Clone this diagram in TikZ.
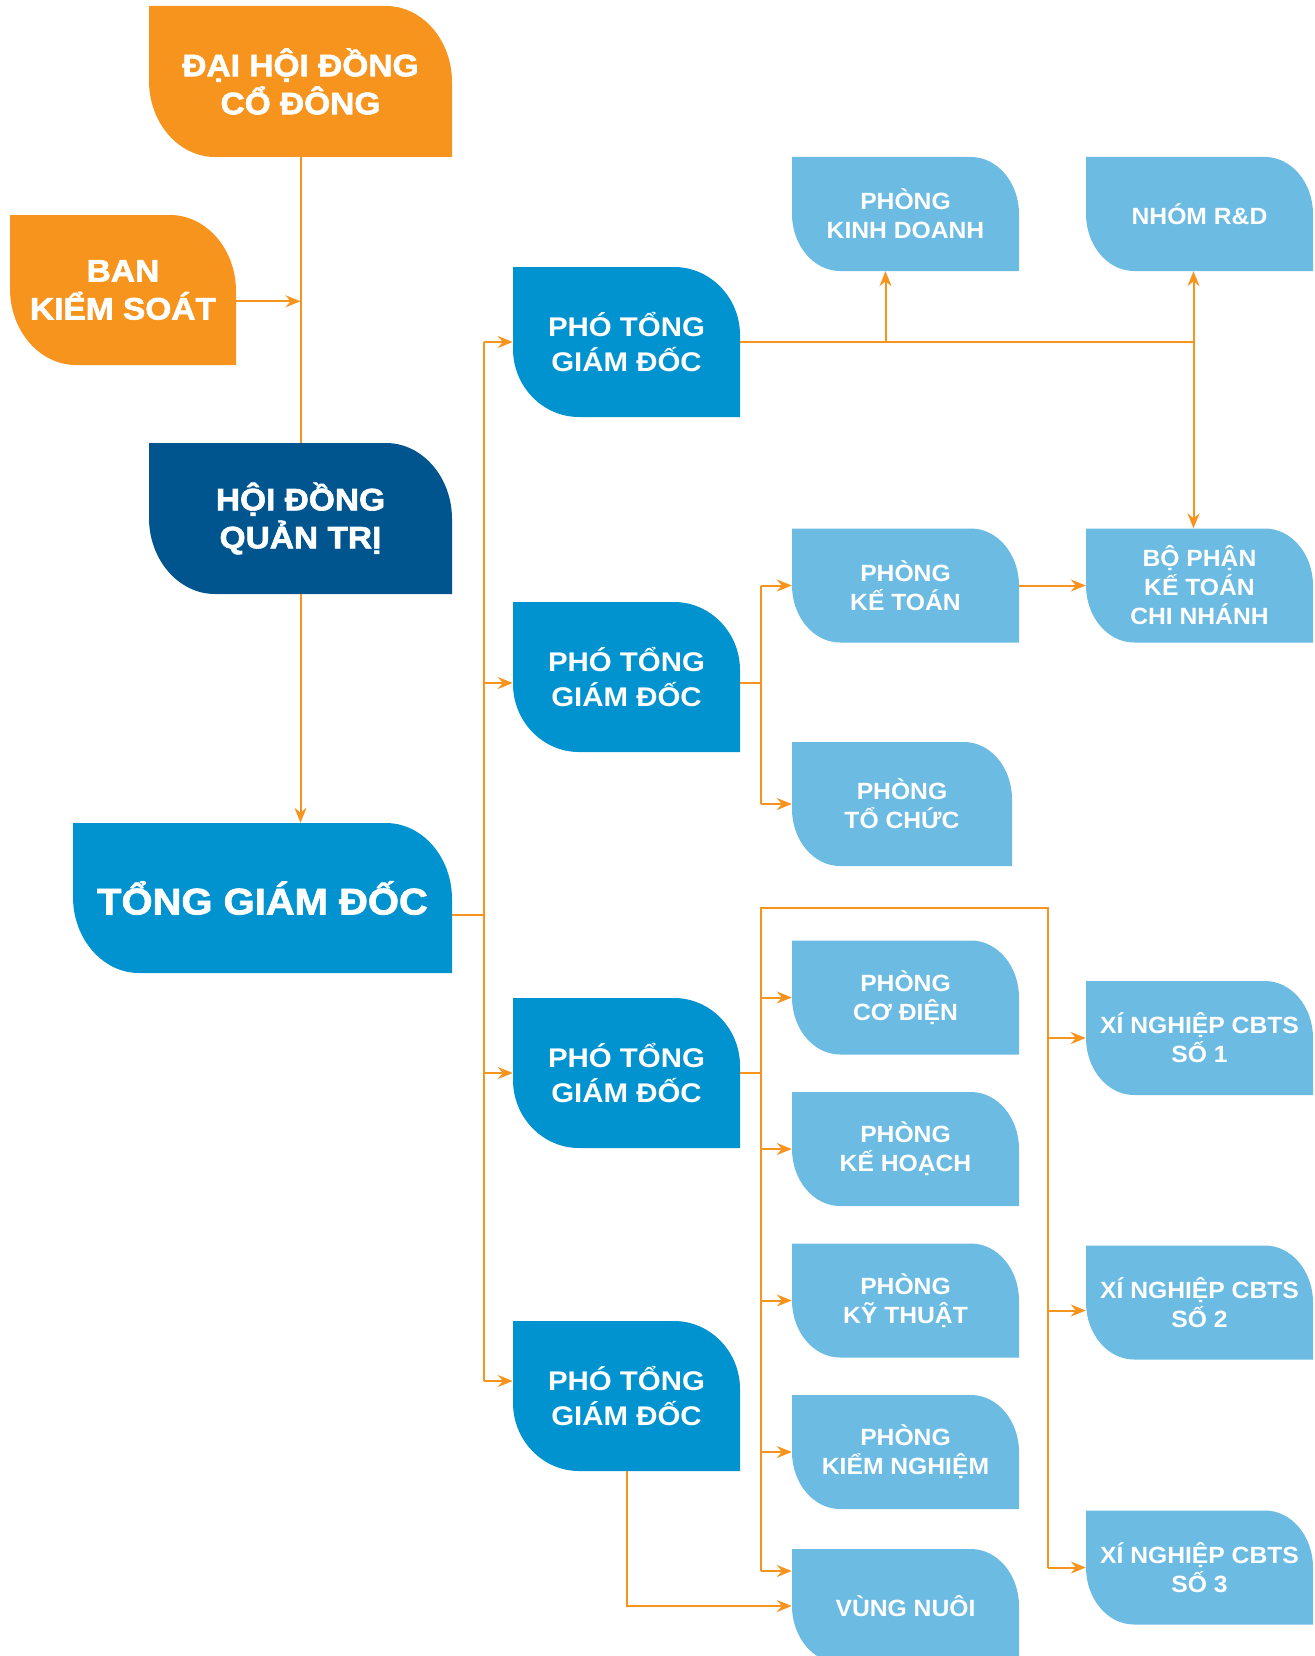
\documentclass[tikz,border=0pt]{standalone}
\usepackage{fontspec}
\setmainfont{Liberation Sans}
\newfontfamily\heavyfont[FakeStretch=1.08,FakeBold=2]{Liberation Sans}
\newfontfamily\boldfont[FakeStretch=1.05]{Liberation Sans}
\newfontfamily\viceboldfont[FakeStretch=1.09]{Liberation Sans}
\usetikzlibrary{calc,arrows.meta}

\definecolor{orangeC}{HTML}{F7941D}
\definecolor{navyC}{HTML}{01558F}
\definecolor{blueC}{HTML}{0093CF}
\definecolor{skyC}{HTML}{6CBBE3}
\definecolor{lineC}{HTML}{F7941D}

\tikzset{
  leaf/.style n args={3}{rectangle, inner sep=0pt, align=center, text=white,
    path picture={\fill[#1] (path picture bounding box.north west)
      -- ([xshift=-#2pt]path picture bounding box.north east)
      .. controls ([xshift={-0.45*#2pt}]path picture bounding box.north east) and ([yshift={-0.45*#3pt}]path picture bounding box.north east)
      .. ([yshift=-#3pt]path picture bounding box.north east)
      -- (path picture bounding box.south east)
      -- ([xshift=#2pt]path picture bounding box.south west)
      .. controls ([xshift={0.45*#2pt}]path picture bounding box.south west) and ([yshift={0.45*#3pt}]path picture bounding box.south west)
      .. ([yshift=#3pt]path picture bounding box.south west) -- cycle;}},
  bigbox/.style={leaf={#1}{66}{76}, minimum width=303pt, minimum height=151pt,
    font=\heavyfont\bfseries\fontsize{31}{38}\selectfont},
  vicebox/.style={leaf={blueC}{66}{68}, minimum width=227pt, minimum height=150pt,
    font=\viceboldfont\bfseries\fontsize{27}{35}\selectfont},
  unitbox/.style={leaf={skyC}{48}{57}, minimum width=227pt, minimum height=114pt,
    font=\boldfont\bfseries\fontsize{23.5}{29}\selectfont},
  link/.style={draw=lineC, line width=2pt},
  arr/.style={link, -{Stealth[length=15pt,width=12pt,inset=5pt]}}
}

\begin{document}
\begin{tikzpicture}[x=1pt,y=-1pt]
\useasboundingbox (0,0) rectangle (1314,1656);

% left column
\node[bigbox=orangeC] (dhdcd) at (300.5,81.5) {ĐẠI HỘI ĐỒNG\\CỔ ĐÔNG};
\node[bigbox=orangeC, minimum width=226pt, minimum height=150pt] (bks) at (123,290) {BAN\\KIỂM SOÁT};
\node[bigbox=navyC] (hdqt) at (300.5,518.5) {HỘI ĐỒNG\\QUẢN TRỊ};
\node[bigbox=blueC, minimum width=379pt, minimum height=150pt,
  font=\heavyfont\bfseries\fontsize{37}{44}\selectfont] (tgd) at (262.5,898) {TỔNG GIÁM ĐỐC};

% deputies
\node[vicebox] (ptgd1) at (626.5,342) {PHÓ TỔNG\\GIÁM ĐỐC};
\node[vicebox] (ptgd2) at (626.5,677) {PHÓ TỔNG\\GIÁM ĐỐC};
\node[vicebox] (ptgd3) at (626.5,1073) {PHÓ TỔNG\\GIÁM ĐỐC};
\node[vicebox] (ptgd4) at (626.5,1396) {PHÓ TỔNG\\GIÁM ĐỐC};

% departments
\node[unitbox] (kinhdoanh) at (905.5,214) {PHÒNG\\KINH DOANH};
\node[unitbox] (rnd) at (1199.5,214) {NHÓM R\&D};
\node[unitbox] (ketoan) at (905.5,585.5) {PHÒNG\\KẾ TOÁN};
\node[unitbox] (bpketoan) at (1199.5,585.5) {BỘ PHẬN\\KẾ TOÁN\\CHI NHÁNH};
\node[unitbox, minimum width=220pt, minimum height=124pt] (tochuc) at (902,804) {PHÒNG\\TỔ CHỨC};
\foreach \nm/\yy/\txt in {codien/997.5/{PHÒNG\\CƠ ĐIỆN}, kehoach/1149/{PHÒNG\\KẾ HOẠCH},
    kythuat/1300.5/{PHÒNG\\KỸ THUẬT}, kiemnghiem/1452/{PHÒNG\\KIỂM NGHIỆM}, vungnuoi/1606/{VÙNG NUÔI}}{
  \node[unitbox] (\nm) at (905.5,\yy) {\txt};
}
\foreach \nm/\yy/\j in {xn1/1038/1, xn2/1302.5/2, xn3/1567.5/3}{
  \node[unitbox] (\nm) at (1199.5,\yy) {XÍ NGHIỆP CBTS\\SỐ \j};
}

% top of the tree
\draw[link] (dhdcd) -- (hdqt);
\coordinate (bksout) at ($(bks.north east)!0.575!(bks.south east)$);
\draw[arr] (bksout) -- (dhdcd.south |- bksout);
\draw[arr] (hdqt.south) -- (hdqt.south |- tgd.north);

% trunk to the deputies
\draw[link] ($(tgd.north east)!0.61!(tgd.south east)$) -- ++(32,0) coordinate (b0);
\coordinate (p2in) at ([yshift=-6pt]ptgd2.west);
\coordinate (p4in) at ([yshift=15pt]ptgd4.west);
\draw[link] (b0 |- ptgd1) -- (b0 |- p4in);
\draw[arr] (b0 |- ptgd1) -- (ptgd1);
\draw[arr] (b0 |- p2in) -- (p2in);
\draw[arr] (b0 |- ptgd3) -- (ptgd3);
\draw[arr] (b0 |- p4in) -- (p4in);

% deputy 1
\path ([xshift=-20pt]kinhdoanh.south) coordinate (kx) ([xshift=-6pt]rnd.south) coordinate (rx);
\draw[link] (ptgd1.east) -- (rx |- ptgd1.east);
\draw[arr] (kx |- ptgd1.east) -- (kx |- kinhdoanh.south);
\draw[arr] (rx |- ptgd1.east) -- (rx |- rnd.south);
\draw[arr] (rx |- ptgd1.east) -- (rx |- bpketoan.north);

% deputy 2
\draw[link] ([yshift=-6pt]ptgd2.east) -- ++(21,0) coordinate (b2);
\draw[link] (b2 |- ketoan) -- (b2 |- tochuc);
\draw[arr] (b2 |- ketoan) -- (ketoan);
\draw[arr] (b2 |- tochuc) -- (tochuc);
\draw[arr] (ketoan) -- (bpketoan);

% deputy 3
\draw[link] (ptgd3.east) -- ++(21,0) coordinate (b3);
\coordinate (c3) at (1048,908);
\coordinate (vnin) at ([yshift=35pt]vungnuoi.west);
\coordinate (xn2in) at ([yshift=-8pt]xn2.west);
\draw[link] (b3 |- vnin) |- (c3) -- (c3 |- xn3);
\foreach \n in {codien, kehoach, kythuat, kiemnghiem}
  \draw[arr] (b3 |- \n) -- (\n);
\draw[arr] (b3 |- vnin) -- (vnin);
\draw[arr] (c3 |- xn1) -- (xn1);
\draw[arr] (c3 |- xn2in) -- (xn2in);
\draw[arr] (c3 |- xn3) -- (xn3);

% deputy 4
\draw[arr] (ptgd4.south) |- (vungnuoi);
\end{tikzpicture}
\end{document}
